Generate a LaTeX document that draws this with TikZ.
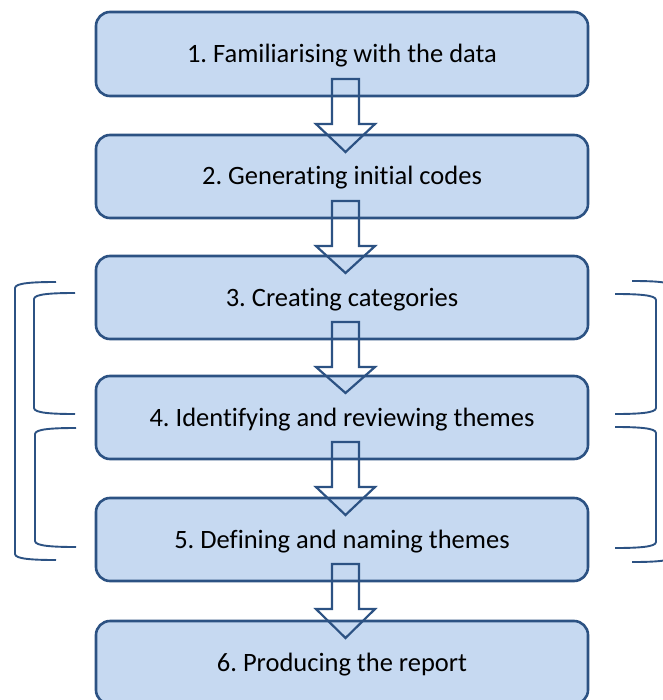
\documentclass[tikz,border=0pt]{standalone}
\usepackage{fontspec}
\setmainfont{Carlito}[Ligatures=NoCommon]
\usetikzlibrary{calc}
\frenchspacing
\definecolor{boxfill}{HTML}{C6D9F1}
\definecolor{boxline}{HTML}{2C5283}
\tikzset{
  stepbox/.style={draw=boxline, line width=2.6pt, fill=boxfill, rounded corners=14pt,
    minimum width=492pt, outer sep=0pt, inner sep=0pt,
    text height=17pt, text depth=0pt,
    font=\fontsize{26.5}{30}\selectfont, text=black},
  arr/.style={draw=boxline, line width=2.2pt, line join=miter},
  brk/.style={draw=boxline, line width=1.9pt}
}
\newcommand{\blockarrow}[2]{%
  \draw[arr] ($(#1.south)+(-10,-17)$) -- ($(#1.south)+(17,-17)$) -- ($(#1.south)+(17,28)$)
    -- ($(#1.south)+(33,28)$) -- ($(#2.north)+(3.5,17)$) -- ($(#1.south)+(-26,28)$)
    -- ($(#1.south)+(-10,28)$) -- cycle;}
\newcommand{\leftbrk}[4]{% x, xend, ytop, ybot
  \draw[brk] (#2,#3) .. controls (#1+18,#3) and (#1,#3+1) .. (#1,#3+6) -- (#1,#4-6)
    .. controls (#1,#4-1) and (#1+18,#4) .. (#2,#4);}
\newcommand{\rightbrk}[4]{% x, xstart, ytop, ybot
  \draw[brk] (#2,#3) .. controls (#1-18,#3) and (#1,#3+1) .. (#1,#3+6) -- (#1,#4-6)
    .. controls (#1,#4-1) and (#1-18,#4) .. (#2,#4);}
\begin{document}
\begin{tikzpicture}[x=1pt,y=-1pt]
\useasboundingbox (0,0) rectangle (662,700);
\node[stepbox, minimum height=84pt] (b1) at (342,54) {1. Familiarising with the data};
\node[stepbox, minimum height=83pt] (b2) at (342,176.5) {2. Generating initial codes};
\node[stepbox, minimum height=83pt] (b3) at (342,297.5) {3. Creating categories};
\node[stepbox, minimum height=83pt] (b4) at (342,417.5) {4. Identifying and reviewing themes};
\node[stepbox, minimum height=83pt] (b5) at (342,539.5) {5. Defining and naming themes};
\node[stepbox, minimum height=83pt] (b6) at (342,662.5) {6. Producing the report};
\blockarrow{b1}{b2}
\blockarrow{b2}{b3}
\blockarrow{b3}{b4}
\blockarrow{b4}{b5}
\blockarrow{b5}{b6}
% brackets left
\leftbrk{15}{56}{282}{560}
\leftbrk{34}{75}{293}{414}
\leftbrk{35}{76}{428}{547}
% brackets right
\rightbrk{673}{632}{281}{562}
\rightbrk{656}{615}{294}{414}
\rightbrk{656}{615}{427}{548}
\end{tikzpicture}
\end{document}
